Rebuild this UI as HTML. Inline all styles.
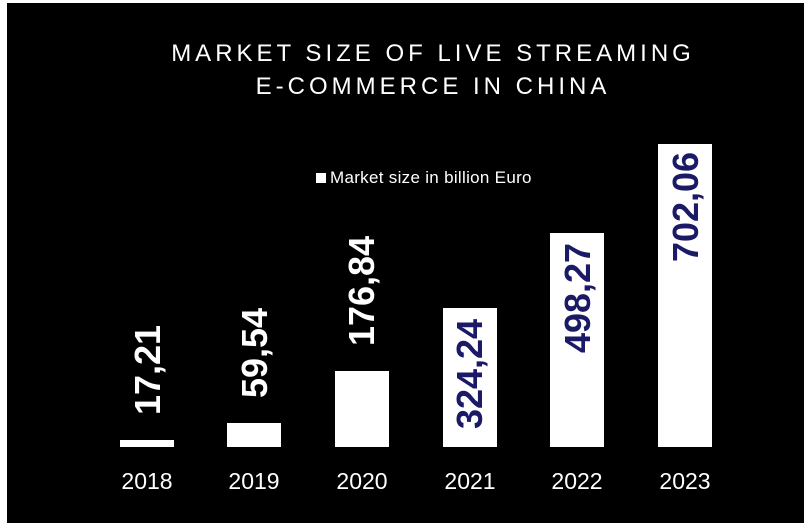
<!DOCTYPE html>
<html><head><style>
body{margin:0;background:#fff;width:812px;height:531px;position:relative;overflow:hidden;font-family:"Liberation Sans",sans-serif}
#bg{position:absolute;left:7px;top:3px;width:797px;height:520px;background:#000}
.t{position:absolute;left:27px;width:812px;text-align:center;color:#fff;font-size:24px;letter-spacing:4px}
.bar{position:absolute;background:#fff;width:54px}
.yr{position:absolute;top:468px;width:80px;text-align:center;color:#fff;font-size:23px}
.v{position:absolute;font-weight:bold;font-size:36px;transform:translate(-50%,-50%) rotate(-90deg);white-space:nowrap;color:#fff}
.n{color:#1a1a66}
</style></head><body>
<div id="bg"></div>
<div class="t" style="top:40px">MARKET SIZE OF LIVE STREAMING</div>
<div class="t" style="top:73px">E-COMMERCE IN CHINA</div>
<div style="position:absolute;left:316px;top:173px;width:10px;height:10px;background:#fff"></div>
<div style="position:absolute;left:330px;top:168px;color:#fff;font-size:17px;letter-spacing:0.3px">Market size in billion Euro</div>
<div class="bar" style="left:120px;top:440px;height:7px"></div>
<div class="bar" style="left:227px;top:423px;height:24px"></div>
<div class="bar" style="left:335px;top:371px;height:76px"></div>
<div class="bar" style="left:443px;top:308px;height:139px"></div>
<div class="bar" style="left:550px;top:233px;height:214px"></div>
<div class="bar" style="left:658px;top:144px;height:303px"></div>
<div class="v" style="left:148px;top:370px">17,21</div>
<div class="v" style="left:255px;top:353px">59,54</div>
<div class="v" style="left:362px;top:291px">176,84</div>
<div class="v n" style="left:470px;top:374px">324,24</div>
<div class="v n" style="left:578px;top:298px">498,27</div>
<div class="v n" style="left:686px;top:207px">702,06</div>
<div class="yr" style="left:107px">2018</div>
<div class="yr" style="left:214px">2019</div>
<div class="yr" style="left:322px">2020</div>
<div class="yr" style="left:430px">2021</div>
<div class="yr" style="left:537px">2022</div>
<div class="yr" style="left:645px">2023</div>
</body></html>
